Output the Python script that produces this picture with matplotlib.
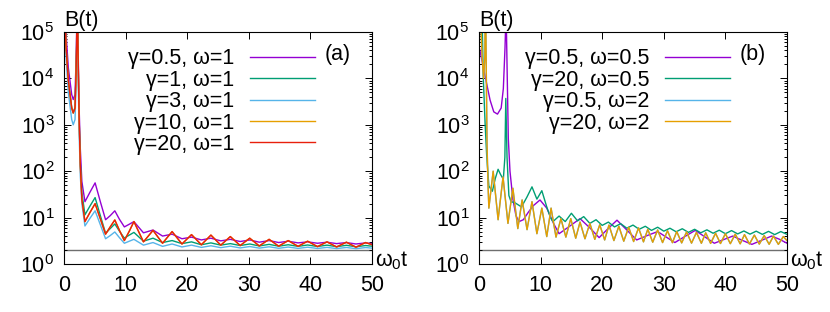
import numpy as np
import matplotlib
matplotlib.use("Agg")
import matplotlib.pyplot as plt
from matplotlib.ticker import LogLocator, LogFormatterMathtext, NullFormatter, MultipleLocator

plt.rcParams['font.family'] = ['Liberation Sans', 'DejaVu Sans']
plt.rcParams['mathtext.fontset'] = 'custom'
plt.rcParams['mathtext.rm'] = 'Liberation Sans'
plt.rcParams['mathtext.it'] = 'Liberation Sans:italic'
plt.rcParams['font.size'] = 15.5

# ---- panel (a): omega = 1 ----
t_a = [0.1, 0.32, 0.7, 1.25, 1.5, 1.79, 1.95, 2.05, 2.15, 2.25, 2.45, 2.65, 2.9,
       3.4, 4.2, 5.05, 5.9, 6.75, 7.5, 8.25, 9.0, 9.8, 10.6, 11.35,
       12.9, 14.45, 16.0, 17.55, 19.15, 20.7, 22.3, 23.85, 25.45, 27.0, 28.6, 30.15,
       31.7, 33.3, 34.85, 36.4, 38.0, 39.55, 41.15, 42.7, 44.25, 45.85, 47.4, 48.95, 50.0]

b_a_g05 = [1e6, 1e5, 1.7e4, 4.5e3, 3.5e3, 4.5e3, 2.3e4, 1e5, 1e7, 1e5, 2.5e3, 300, 60,
           22, 35, 56, 22, 9, 11, 14, 9.2, 6.3, 7.2, 8.2,
           4.7, 5.4, 4.0, 4.4, 3.5, 3.8, 3.3, 3.6, 3.15, 3.4, 3.05, 3.3,
           2.95, 3.2, 2.9, 3.1, 2.85, 3.0, 2.8, 2.95, 2.75, 2.9, 2.7, 2.85, 2.75]
b_a_g1 = [5e5, 5e4, 9e3, 2.4e3, 1.8e3, 2.4e3, 1.2e4, 5e4, 1e7, 6e4, 1.4e3, 150, 35,
          11.5, 17.6, 27, 11, 4.6, 5.8, 7.3, 5.1, 3.6, 4.2, 4.8,
          3.1, 3.6, 2.9, 3.2, 2.75, 3.0, 2.6, 2.85, 2.55, 2.75, 2.5, 2.7,
          2.45, 2.65, 2.42, 2.6, 2.4, 2.57, 2.38, 2.55, 2.36, 2.53, 2.35, 2.5, 2.42]
b_a_g3 = [3e5, 3e4, 5e3, 1.3e3, 1.0e3, 1.3e3, 7e3, 3e4, 1e7, 3e4, 700, 80, 20,
          6.6, 9.6, 14, 7.0, 3.5, 4.1, 4.9, 3.7, 2.8, 3.1, 3.4,
          2.55, 2.9, 2.4, 2.7, 2.33, 2.55, 2.28, 2.47, 2.25, 2.42, 2.22, 2.38,
          2.2, 2.35, 2.18, 2.32, 2.17, 2.3, 2.16, 2.28, 2.15, 2.27, 2.14, 2.26, 2.2]
b_a_g20 = [5e5, 5e4, 9e3, 2.3e3, 1.8e3, 2.3e3, 1.2e4, 5e4, 1e7, 7e4, 1.5e3, 130, 25,
           8.2, 12.8, 20, 9.4, 4.4, 6.3, 8.9, 5.3, 3.2, 5.1, 8.2,
           3.0, 5.3, 2.8, 5.0, 2.7, 4.3, 2.6, 4.2, 2.55, 3.9, 2.5, 3.6,
           2.45, 3.4, 2.42, 3.2, 2.4, 3.1, 2.37, 3.0, 2.33, 2.95, 2.3, 2.9, 2.6]
b_a_g10 = list(b_a_g20)  # lies under the gamma=20 curve

# ---- panel (b) ----
t_b_p = [0.0, 1.0, 1.8, 2.4, 3.0, 3.6, 3.95, 4.22, 4.4, 4.55, 4.76, 5.03, 5.5, 6.0, 6.5,
         7.2, 8.0, 8.8, 9.9, 11.0, 12.1, 13.0, 14.7, 16.4, 18.0, 19.5, 20.9, 22.4, 24.0,
         25.6, 27.3, 29.0, 30.4, 31.8, 33.4, 35.1, 36.6, 38.2, 39.7, 41.2, 42.7, 44.3,
         45.9, 47.5, 48.8, 50.0]
b_b_g05_w05 = [5e4, 1.1e4, 3.4e3, 1.9e3, 1.7e3, 2.3e3, 6e3, 4.5e4, 3e5, 2e4, 500, 100, 25, 11, 8.2,
               9, 13, 18, 24, 16, 7.5, 4.5, 6.5, 9.5, 6, 3.7, 5.7, 8.8, 5.4,
               3.3, 4.1, 5.0, 3.8, 2.9, 3.9, 5.3, 3.9, 2.8, 3.35, 4.0, 3.25, 2.65,
               3.25, 4.0, 3.4, 2.8]

t_b_g = [0.1, 0.55, 0.7, 1.0, 1.25, 1.6, 2.17, 2.65, 3.1, 3.5, 3.95, 4.2, 4.35, 4.55, 4.85,
         5.2, 5.8, 6.9, 7.8, 8.6, 9.4, 10.2, 11.0, 11.6, 12.0, 13.0, 14.0, 15.0, 16.0, 17.0,
         18.0, 19.0, 20.0, 21.0, 22.0, 23.0, 24.0, 25.0, 26.0, 27.0, 28.0, 29.0, 30.0, 31.0,
         32.0, 33.0, 34.0, 35.0, 36.0, 37.0, 38.0, 39.0, 40.0, 41.0, 42.0, 43.0, 44.0, 45.0,
         46.0, 47.0, 48.0, 49.0, 50.0]
b_b_g20_w05 = [1e6, 1e5, 1e4, 1e3, 215, 48, 37, 70, 110, 85, 67, 200, 3700, 200, 30,
               22, 21, 17, 28, 46, 25, 38, 17, 10, 8.2, 10.8, 8.2, 12.4, 8.5, 10.5,
               7.5, 9.0, 6.8, 8.0, 6.3, 7.4, 5.9, 6.9, 5.6, 6.5, 5.3, 6.2, 5.1, 5.9,
               4.95, 5.75, 4.8, 5.6, 4.7, 5.45, 4.6, 5.35, 4.5, 5.25, 4.45, 5.15, 4.4, 5.1,
               4.35, 5.05, 4.3, 5.0, 4.35]

t_b_o = [0.05, 0.5, 0.75, 0.95, 1.05, 1.12, 1.3, 1.45, 1.6,
         2.3, 3.1, 3.9, 4.7, 5.5, 6.3, 7.0, 7.8, 8.6, 9.4, 10.2, 11.0, 11.7, 12.5, 13.3,
         14.1, 14.9, 15.7, 16.4, 17.2, 18.0, 18.8, 19.6, 20.4, 21.1, 21.9, 22.7, 23.5,
         24.3, 25.1, 25.9, 26.7, 27.4, 28.2, 29.0, 29.8, 30.6, 31.4, 32.1, 32.9, 33.7,
         34.5, 35.3, 36.1, 36.8, 37.6, 38.4, 39.2, 40.0, 40.8, 41.6, 42.4, 43.1, 43.9,
         44.7, 45.5, 46.3, 47.1, 47.8, 48.6, 49.4, 50.0]
b_b_g20_w2 = [1e6, 3e4, 1e4, 3e4, 1e6, 1e5, 400, 60, 16,
              100, 9, 75, 7.5, 43, 5.8, 24, 5.5, 22, 4.5, 16, 3.9, 16, 3.8, 9.5,
              3.8, 9.5, 3.6, 8, 3.5, 7.5, 3.4, 7, 3.3, 6.9, 3.2, 6.5, 3.1,
              6.2, 3.05, 6.0, 3.0, 5.6, 2.95, 5.4, 2.9, 5.2, 2.88, 5.0, 2.85, 4.9,
              2.82, 4.8, 2.8, 4.7, 2.78, 4.6, 2.76, 4.5, 2.74, 4.4, 2.72, 4.3, 2.7,
              4.2, 2.68, 4.1, 2.66, 4.0, 2.65, 3.9, 3.2]
b_b_g05_w2 = list(b_b_g20_w2)  # hidden under the gamma=20, omega=2 curve

b_limit = 2.0

c_purple = '#9400d3'
c_green = '#009e73'
c_blue = '#56b4e9'
c_orange = '#e69f00'
c_red = '#e8200c'


def style_axis(ax, tag):
    ax.set_yscale('log')
    ax.set_xlim(0, 50)
    ax.set_ylim(1, 1e5)
    ax.xaxis.set_major_locator(MultipleLocator(10))
    ax.yaxis.set_major_locator(LogLocator(base=10, numticks=10))
    ax.yaxis.set_minor_locator(LogLocator(base=10, subs=np.arange(2, 10), numticks=10))
    ax.yaxis.set_major_formatter(LogFormatterMathtext())
    ax.yaxis.set_minor_formatter(NullFormatter())
    ax.tick_params(which='both', direction='in', top=True, right=True, width=0.7)
    ax.tick_params(which='major', length=5)
    ax.tick_params(which='minor', length=2.5)
    ax.tick_params(axis='x', pad=8)
    ax.tick_params(axis='y', pad=7)
    for s in ax.spines.values():
        s.set_linewidth(0.8)
    ax.axhline(b_limit, color='#6e6e6e', lw=1.0, zorder=1)
    ax.text(0.0, 1.026, 'B(t)', transform=ax.transAxes, ha='left', va='baseline')
    ax.text(1.01, -0.009, r'ω$_0$t', transform=ax.transAxes, ha='left', va='baseline')
    ax.text(0.847, 0.905, tag, transform=ax.transAxes, ha='left', va='center')
    ax.legend(loc='upper right', bbox_to_anchor=(0.815, 0.93), markerfirst=False,
              frameon=False, handlelength=3.0, handletextpad=0.75, labelspacing=0.02,
              borderpad=0, borderaxespad=0)


fig = plt.figure(figsize=(8.3, 3.12), dpi=100)
ax1 = fig.add_axes([64 / 830, 48 / 312, 308 / 830, 232 / 312])
ax2 = fig.add_axes([479 / 830, 48 / 312, 308 / 830, 232 / 312])

ax1.plot(t_a, b_a_g05, color=c_purple, lw=1.0, label='γ=0.5, ω=1')
ax1.plot(t_a, b_a_g1, color=c_green, lw=1.0, label='γ=1, ω=1')
ax1.plot(t_a, b_a_g3, color=c_blue, lw=1.0, label='γ=3, ω=1')
ax1.plot(t_a, b_a_g10, color=c_orange, lw=1.0, label='γ=10, ω=1')
ax1.plot(t_a, b_a_g20, color=c_red, lw=1.0, label='γ=20, ω=1')
style_axis(ax1, '(a)')

ax2.plot(t_b_p, b_b_g05_w05, color=c_purple, lw=1.0, label='γ=0.5, ω=0.5')
ax2.plot(t_b_g, b_b_g20_w05, color=c_green, lw=1.0, label='γ=20, ω=0.5')
ax2.plot(t_b_o, b_b_g05_w2, color=c_blue, lw=1.0, label='γ=0.5, ω=2')
ax2.plot(t_b_o, b_b_g20_w2, color=c_orange, lw=1.0, label='γ=20, ω=2')
style_axis(ax2, '(b)')

fig.savefig('out.png', dpi=100)
